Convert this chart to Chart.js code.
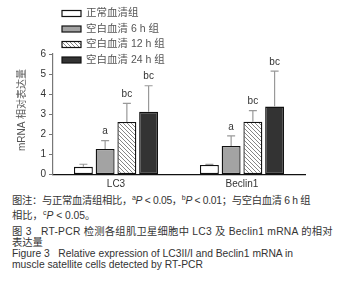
<!DOCTYPE html>
<html>
<head>
<meta charset="utf-8">
<script src="https://cdn.jsdelivr.net/npm/chart.js@4"></script>
<style>
  body { margin: 0; background: #fff; }
  #wrap { position: relative; width: 340px; height: 301px; overflow: hidden; }
  #chart { position: absolute; left: 0; top: 0; }
  .cap { position: absolute; left: 12px; white-space: nowrap; font-family: "Liberation Sans", "Noto Sans CJK SC", sans-serif; font-size: 10.3px; line-height: 14px; color: #333; }
  .cap sup { font-size: 7px; vertical-align: 4px; line-height: 0; }
</style>
</head>
<body>
<div id="wrap">
  <canvas id="chart" width="340" height="192"></canvas>
  <div class="cap" style="top:194px;letter-spacing:-0.3px">图注：与正常血清组相比，<sup>a</sup><i>P</i> &lt; 0.05，<sup>b</sup><i>P</i> &lt; 0.01；与空白血清 6 h 组</div>
  <div class="cap" style="top:209px">相比，<sup>c</sup><i>P</i> &lt; 0.05。</div>
  <div class="cap" style="top:224.5px;letter-spacing:0.25px">图 3&nbsp;&nbsp;&nbsp;RT-PCR 检测各组肌卫星细胞中 LC3 及 Beclin1 mRNA 的相对</div>
  <div class="cap" style="top:235.5px">表达量</div>
  <div class="cap" style="top:247px">Figure 3&nbsp;&nbsp;&nbsp;Relative expression of LC3II/I and Beclin1 mRNA in</div>
  <div class="cap" style="top:258px">muscle satellite cells detected by RT-PCR</div>
</div>
<script>
// 数据
const categories = ["LC3", "Beclin1"];
const groups = ["正常血清组", "空白血清 6 h 组", "空白血清 12 h 组", "空白血清 24 h 组"];
const normal = [0.38, 0.47];
const blank6h = [1.27, 1.42];
const blank12h = [2.62, 2.63];
const blank24h = [3.12, 3.38];
// 误差（只画上半部分）
const normalErr = [0.13, 0.03];
const blank6hErr = [0.42, 0.5];
const blank12hErr = [0.92, 0.55];
const blank24hErr = [1.3, 1.77];
// 显著性标记
const normalSig = ["", ""];
const blank6hSig = ["a", "a"];
const blank12hSig = ["bc", "bc"];
const blank24hSig = ["bc", "bc"];
const yTicks = [0, 1, 2, 3, 4, 5, 6];
const yTitle = "mRNA 相对表达量";

const FONT = '"Liberation Sans", "Noto Sans CJK SC", sans-serif';

// 斜线填充
function hatch() {
  const c = document.createElement("canvas");
  c.width = 4; c.height = 4;
  const g = c.getContext("2d");
  g.fillStyle = "#fff";
  g.fillRect(0, 0, 4, 4);
  g.strokeStyle = "#666";
  g.lineWidth = 0.8;
  g.beginPath();
  g.moveTo(-1, -1); g.lineTo(5, 5);
  g.moveTo(-1, 3); g.lineTo(1, 5);
  g.moveTo(3, -1); g.lineTo(5, 1);
  g.stroke();
  return g.createPattern(c, "repeat");
}
const hatchFill = hatch();

const fills = ["#ffffff", "#a3a3a3", hatchFill, "#333333"];
const values = [normal, blank6h, blank12h, blank24h];
const errs = [normalErr, blank6hErr, blank12hErr, blank24hErr];
const sigs = [normalSig, blank6hSig, blank12hSig, blank24hSig];

const datasets = groups.map((g, i) => ({
  label: g,
  data: values[i],
  backgroundColor: fills[i],
  borderColor: "#111",
  borderWidth: 1.3,
  borderSkipped: false,
  categoryPercentage: 0.69,
  barPercentage: 0.87,
}));

// 误差线 + 标记 + 图例 + y轴标题
const extras = {
  id: "extras",
  afterDatasetsDraw(chart) {
    const ctx = chart.ctx;
    const y = chart.scales.y;
    ctx.save();
    datasets.forEach((ds, i) => {
      const meta = chart.getDatasetMeta(i);
      meta.data.forEach((bar, j) => {
        const top = y.getPixelForValue(values[i][j] + errs[i][j]);
        ctx.strokeStyle = "#999";
        ctx.lineWidth = 1.2;
        ctx.beginPath();
        ctx.moveTo(bar.x, bar.y);
        ctx.lineTo(bar.x, top);
        ctx.moveTo(bar.x - 4, top);
        ctx.lineTo(bar.x + 4, top);
        ctx.stroke();
        if (sigs[i][j]) {
          ctx.fillStyle = "#333";
          ctx.font = "10px " + FONT;
          ctx.textAlign = "center";
          ctx.textBaseline = "middle";
          ctx.fillText(sigs[i][j], bar.x, top - 9);
        }
      });
    });
    // 图例
    const rows = [13.5, 29, 44.5, 60];
    groups.forEach((g, i) => {
      ctx.fillStyle = fills[i];
      ctx.fillRect(62, rows[i] - 3, 19, 6);
      ctx.strokeStyle = "#111";
      ctx.lineWidth = 1.2;
      ctx.strokeRect(62, rows[i] - 3, 19, 6);
      ctx.fillStyle = "#555";
      ctx.font = "10.5px " + FONT;
      ctx.textAlign = "left";
      ctx.textBaseline = "middle";
      ctx.fillText(g, 86, rows[i]);
    });
    // y轴标题
    ctx.translate(22, 110);
    ctx.rotate(-Math.PI / 2);
    ctx.fillStyle = "#555";
    ctx.font = "10px " + FONT;
    ctx.textAlign = "center";
    ctx.textBaseline = "middle";
    ctx.fillText(yTitle, 0, 0);
    ctx.restore();
  },
};

new Chart(document.getElementById("chart"), {
  type: "bar",
  data: { labels: categories, datasets },
  options: {
    responsive: false,
    animation: false,
    layout: { padding: { top: 54, right: 35, left: 0, bottom: 0 } },
    plugins: { legend: { display: false }, tooltip: { enabled: false } },
    scales: {
      x: {
        offset: true,
        grid: { display: false, drawTicks: false, tickLength: 0 },
        border: { display: true, color: "#111", width: 1.2 },
        ticks: { color: "#333", font: { size: 10, family: FONT }, padding: 4 },
        afterFit: (s) => { s.height = 17.5; },
      },
      y: {
        min: 0,
        max: 6,
        afterBuildTicks: (s) => { s.ticks = yTicks.map((v) => ({ value: v })); },
        ticks: { color: "#333", font: { size: 10, family: FONT }, padding: 3 },
        grid: { drawOnChartArea: false, drawTicks: true, tickLength: 4, color: "#777" },
        border: { color: "#777", width: 1.2 },
        afterFit: (s) => { s.width = 53; },
      },
    },
  },
  plugins: [extras],
});
</script>
</body>
</html>
